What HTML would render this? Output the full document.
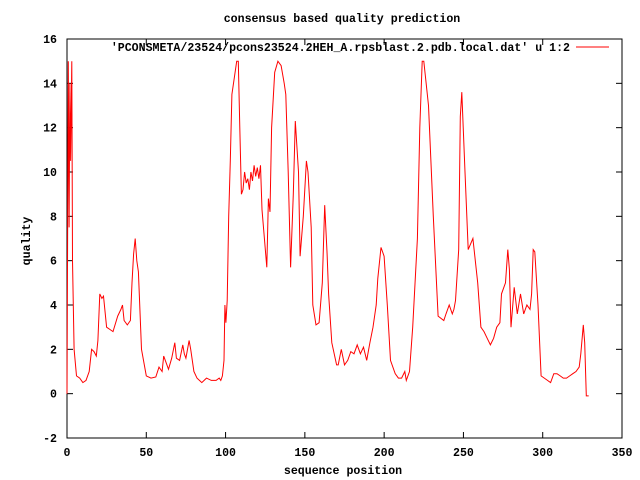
<!DOCTYPE html>
<html><head><meta charset="utf-8"><style>
html,body{margin:0;padding:0;background:#fff}
svg{display:block}
text{font-family:"Liberation Mono","DejaVu Sans Mono",monospace;font-weight:bold;font-size:11.6px;fill:#000}
</style></head><body>
<svg id="chart" width="640" height="480" xmlns="http://www.w3.org/2000/svg">
<text x="342" y="22" text-anchor="middle">consensus based quality prediction</text>
<text x="343" y="474" text-anchor="middle">sequence position</text>
<text x="0" y="0" text-anchor="middle" transform="translate(30,241) rotate(-90)">quality</text>
<g id="axes"></g>
<g id="series"></g>
<g>
<text x="570" y="51" text-anchor="end">'PCONSMETA/23524/pcons23524.2HEH_A.rpsblast.2.pdb.local.dat' u 1:2</text>
<line x1="576" y1="47" x2="609" y2="47" stroke="#f00" stroke-width="1"/>
</g>
</svg>
<script>
const xTicks=[0,50,100,150,200,250,300,350];
const yTicks=[-2,0,2,4,6,8,10,12,14,16];
const positions=[0,0.8,1.3,1.8,2.3,3,3.5,4.5,6,8,10,12,14,15.5,17,18.5,19.5,20.7,22,23,25,27,29,32,34,35,36,38,40,41,42,43,44,45,47,50,53,56,58,60,61,62,64,66,68,69,71,73,74,75,77,78,80,82,85,88,91,94,96,97,98,99,99.6,100.2,101,102,103,104,107,108,109,110,111,112,113,114,115,116,117,118,119,120,121,122,123,124.5,126,127,128,129,131,133,135,137,138,139.5,141,142.7,144,146,147,149,151,152,154,155,157,159,161,162.5,164,165,167,170,171,173,175,177,179,181,183,185,187,189,191,193,195,196,198,200,202,204,207,209,211,213,214,216,218,221,222.5,224,225,228,231,234,237.6,239,241,243,244,245,247,248,249,251,253,256,259,261,263,265,267,269,271,273,274,276.5,278,279,280,282,284,286,288,290,292,293,294,295,297,299,301,303,305,307,309,311,313,315,317,319,321,323,324,325.6,326.5,327.5,329];
const qualities=[0,15,7.5,14,10.5,15,6,2,0.8,0.7,0.5,0.6,1,2,1.9,1.7,2.4,4.5,4.3,4.4,3,2.9,2.8,3.5,3.8,4,3.3,3.1,3.3,5,6.3,7,6,5.5,2,0.8,0.7,0.75,1.2,1,1.7,1.5,1.1,1.6,2.3,1.6,1.5,2.2,1.8,1.6,2.4,2,1,0.7,0.5,0.7,0.6,0.6,0.7,0.6,0.8,1.5,4,3.2,4.2,8,10.5,13.5,15,15,12,9,9.2,10,9.5,9.7,9.2,10,9.6,10.3,9.8,10.2,9.7,10.3,8.3,7,5.7,8.8,8.2,12,14.5,15,14.8,14,13.5,10,5.7,9,12.3,10,6.2,8,10.5,10,7.5,4,3.1,3.2,5,8.5,6.3,4.5,2.3,1.3,1.3,2,1.3,1.5,1.9,1.8,2.2,1.8,2.1,1.5,2.3,3,4,5.2,6.6,6.2,4,1.5,0.9,0.7,0.7,1,0.6,1,3,7,12,15,15,13,8,3.5,3.3,3.6,4,3.6,3.8,4.2,6.5,12.5,13.6,10,6.5,7,5,3,2.8,2.5,2.2,2.5,3,3.2,4.5,5,6.5,5.6,3,4.8,3.6,4.5,3.6,4,3.8,4.5,6.5,6.4,4,0.8,0.7,0.6,0.5,0.9,0.9,0.8,0.7,0.7,0.8,0.9,1,1.2,1.8,3.1,2.3,-0.1,-0.1];
const X0=67,X1=622,Y0=438,Y1=39;
function sx(v){return X0+(v-0)/(350-0)*(X1-X0);}
function sy(v){return Y0-(v-(-2))/(16-(-2))*(Y0-Y1);}
const NS="http://www.w3.org/2000/svg";
const axes=document.getElementById('axes');
const frame=document.createElementNS(NS,'rect');
frame.setAttribute('x',X0);frame.setAttribute('y',Y1);frame.setAttribute('width',X1-X0);frame.setAttribute('height',Y0-Y1);
frame.setAttribute('fill','none');frame.setAttribute('stroke','#000');


axes.appendChild(frame);
xTicks.forEach(t=>{
  const x=sx(t);
  [[Y0,Y0-6],[Y1,Y1+6]].forEach(p=>{
    const l=document.createElementNS(NS,'line');
    l.setAttribute('x1',x);l.setAttribute('x2',x);l.setAttribute('y1',p[0]);l.setAttribute('y2',p[1]);l.setAttribute('stroke','#000');
    
    
    axes.appendChild(l);
  });
  const tx=document.createElementNS(NS,'text');
  tx.setAttribute('x',x);tx.setAttribute('y',Y0+18);tx.setAttribute('text-anchor','middle');tx.textContent=t;
  
  
  axes.appendChild(tx);
});
yTicks.forEach(t=>{
  const y=sy(t);
  [[X0,X0+6],[X1,X1-6]].forEach(p=>{
    const l=document.createElementNS(NS,'line');
    l.setAttribute('x1',p[0]);l.setAttribute('x2',p[1]);l.setAttribute('y1',y);l.setAttribute('y2',y);l.setAttribute('stroke','#000');
    
    
    axes.appendChild(l);
  });
  const tx=document.createElementNS(NS,'text');
  tx.setAttribute('x',X0-10);tx.setAttribute('y',y+4);tx.setAttribute('text-anchor','end');tx.textContent=t;
  
  
  axes.appendChild(tx);
});
const pts=positions.map((p,i)=>sx(p).toFixed(1)+','+sy(qualities[i]).toFixed(1)).join(' ');
const line=document.createElementNS(NS,'polyline');
line.setAttribute('points',pts);line.setAttribute('fill','none');line.setAttribute('stroke','#f00');line.setAttribute('stroke-width','1');


document.getElementById('series').appendChild(line);
</script>
</body></html>
